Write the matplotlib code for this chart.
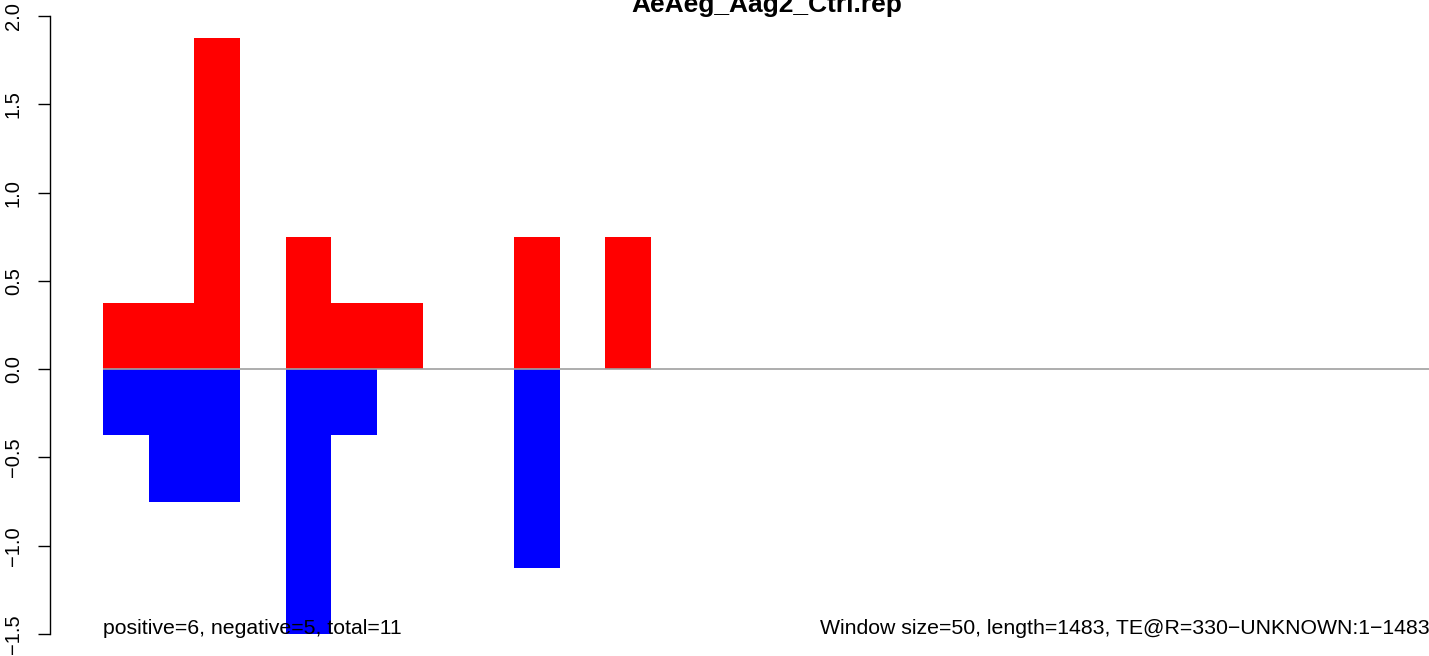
import matplotlib
matplotlib.use("Agg")
import matplotlib.pyplot as plt
import numpy as np

plt.rcParams["font.family"] = ["Liberation Sans", "DejaVu Sans"]

title = "AeAeg_Aag2_Ctrl.rep"
n_windows = 29
# normalised coverage per 50-bp window (sense / antisense)
positive = [0.375, 0.375, 1.875, 0, 0.75, 0.375, 0.375, 0, 0, 0.75, 0, 0.75]
negative = [-0.375, -0.75, -0.75, 0, -1.5, -0.375, 0, 0, 0, -1.125, 0, 0]
yticks = [-1.5, -1.0, -0.5, 0.0, 0.5, 1.0, 1.5, 2.0]
left_note = "positive=6, negative=5, total=11"
right_note = "Window size=50, length=1483, TE@R=330\u2212UNKNOWN:1\u22121483"

W, H = 1429, 656
fig = plt.figure(figsize=(W / 100, H / 100), dpi=100)
ax = fig.add_axes([50 / W, 22 / H, 1430 / W, 618 / H])

x = np.arange(len(positive))
ax.bar(x, positive, width=1.0, align="edge", color="#FF0000", linewidth=0)
ax.bar(x, negative, width=1.0, align="edge", color="#0000FF", linewidth=0)
ax.hlines(0, 0, n_windows * 1.04, color="#A0A0A0", linewidth=1.2)

ax.set_xlim(-0.04 * n_windows, n_windows * 1.04)
ax.set_ylim(-1.5, 2.0)

for s in ["top", "right", "bottom"]:
    ax.spines[s].set_visible(False)
ax.spines["left"].set_bounds(-1.5, 2.0)
ax.spines["left"].set_linewidth(1.0)
ax.set_xticks([])
ax.set_yticks(yticks)
ax.set_yticklabels([f"{v:.1f}".replace("-", "\u2212") for v in yticks],
                   rotation=90, va="center", fontsize=14.5)
ax.tick_params(axis="y", length=8.6, width=1.0, pad=11)

ax.text(0, -1.5, left_note, ha="left", va="baseline", fontsize=15.3)
ax.text(15.7, -1.5, right_note, ha="left", va="baseline", fontsize=15.3)

fig.text(767 / W, 1 - 12 / H, title, ha="center", va="baseline",
         fontsize=19, fontweight="bold")

fig.savefig("out.png", dpi=100)
